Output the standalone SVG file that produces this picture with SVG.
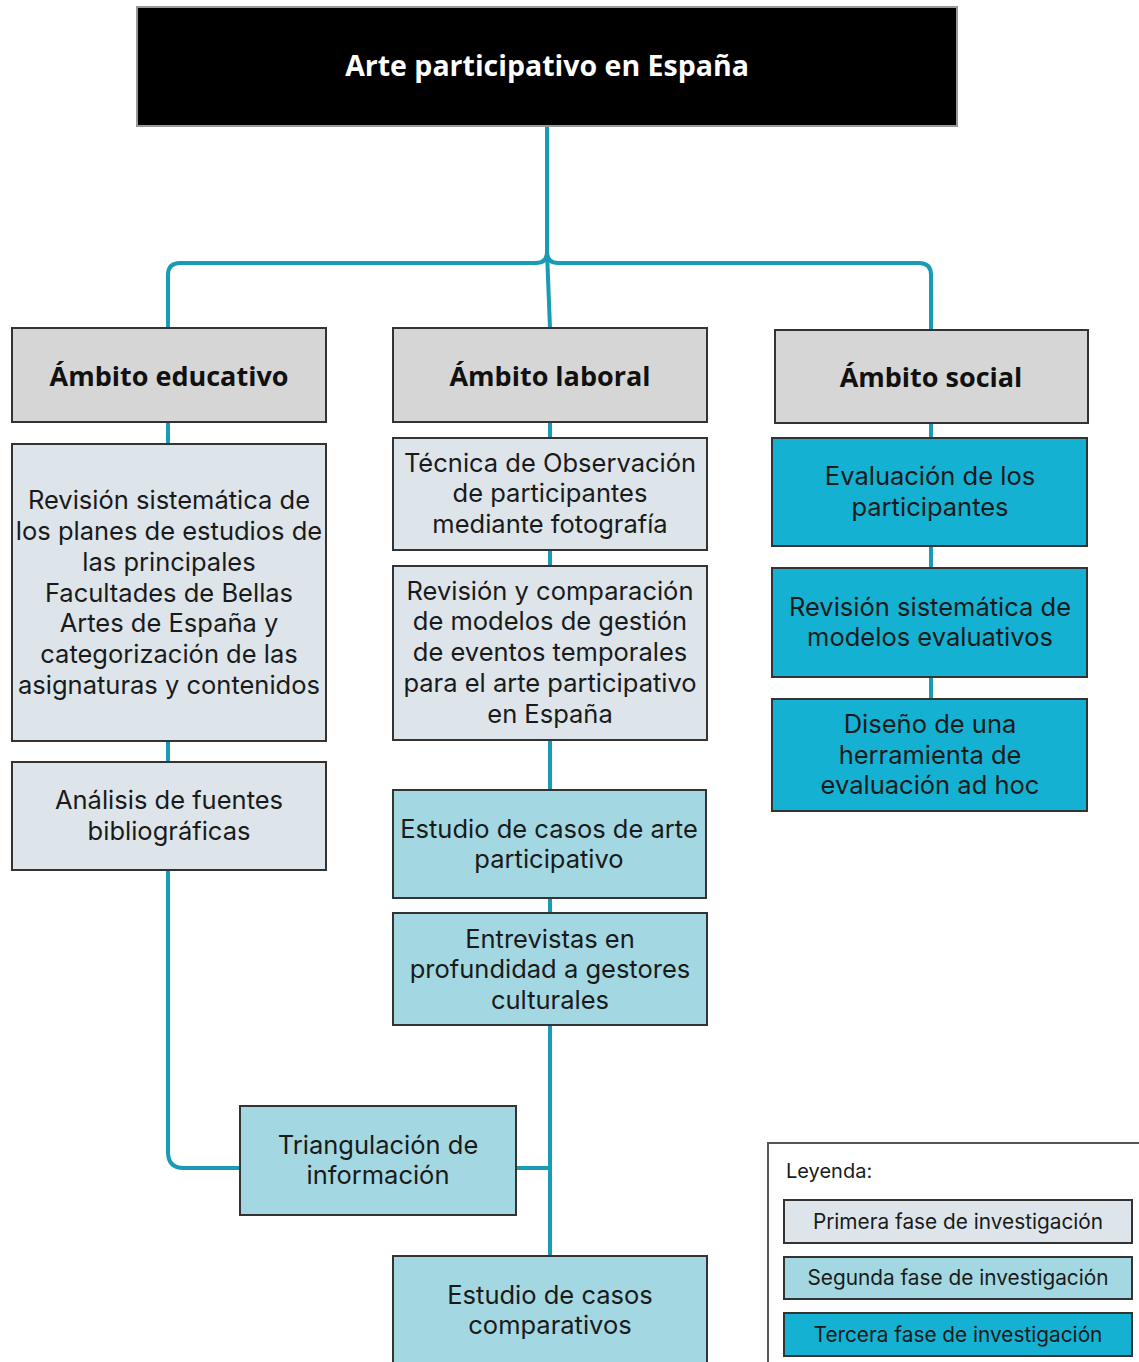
<svg xmlns="http://www.w3.org/2000/svg" width="1139" height="1362" viewBox="0 0 1139 1362">
<style>
.box{stroke:#333;stroke-width:2}
.head{fill:#d6d6d6}
.p1{fill:#dde5ea}
.p2{fill:#a3d8e2}
.p3{fill:#14b1d3}
.t{font-family:Inter,"Open Sans",sans-serif;font-size:25.5px;fill:#1a1a1a;text-anchor:middle}
.h{font-family:"Open Sans","Liberation Sans",sans-serif;font-weight:bold;font-size:27px;fill:#111;text-anchor:middle}
.lg{font-family:Inter,"Open Sans",sans-serif;font-size:20.8px;fill:#1a1a1a;text-anchor:middle}
.c{fill:none;stroke:#1a9bb5;stroke-width:4;stroke-linejoin:round}
</style>
<rect width="1139" height="1362" fill="#fff"/>
<g id="connectors">
<path class="c" d="M547 126 V252 Q547 263 536 263 H180 Q168 263 168 275 V328"/>
<path class="c" d="M547 252 Q547 263 558 263 H919 Q931 263 931 275 V330"/>
<path class="c" d="M547 252 L550 328"/>
<path class="c" d="M168 422 V444 M168 741 V762 M168 870 V1152 Q168 1168 184 1168 H240"/>
<path class="c" d="M550 422 V438 M550 550 V566 M550 740 V790 M550 898 V913 M550 1025 V1256 M516 1168 H550"/>
<path class="c" d="M931 423 V438 M931 546 V568 M931 677 V699"/>
</g>
<g id="title">
<rect x="137" y="7" width="820" height="119" fill="#000" stroke="#999" stroke-width="2"/>
<text x="547" y="76" class="h" style="fill:#fff;font-size:28.5px">Arte participativo en España</text>
</g>
<g id="ambito-educativo">
<rect class="box head" x="12" y="328" width="314" height="94"/>
<text class="h" x="169" y="386">Ámbito educativo</text>
</g>
<g id="ambito-laboral">
<rect class="box head" x="393" y="328" width="314" height="94"/>
<text class="h" x="550" y="386">Ámbito laboral</text>
</g>
<g id="ambito-social">
<rect class="box head" x="775" y="330" width="313" height="93"/>
<text class="h" x="931" y="387">Ámbito social</text>
</g>
<g id="revision-planes">
<rect class="box p1" x="12" y="444" width="314" height="297"/>
<text class="t" x="169" y="509">Revisión sistemática de</text>
<text class="t" x="169" y="540">los planes de estudios de</text>
<text class="t" x="169" y="571">las principales</text>
<text class="t" x="169" y="602">Facultades de Bellas</text>
<text class="t" x="169" y="632">Artes de España y</text>
<text class="t" x="169" y="663">categorización de las</text>
<text class="t" x="169" y="694">asignaturas y contenidos</text>
</g>
<g id="analisis-fuentes">
<rect class="box p1" x="12" y="762" width="314" height="108"/>
<text class="t" x="169" y="809">Análisis de fuentes</text>
<text class="t" x="169" y="840">bibliográficas</text>
</g>
<g id="tecnica-observacion">
<rect class="box p1" x="393" y="438" width="314" height="112"/>
<text class="t" x="550" y="472">Técnica de Observación</text>
<text class="t" x="550" y="502">de participantes</text>
<text class="t" x="550" y="533">mediante fotografía</text>
</g>
<g id="revision-comparacion">
<rect class="box p1" x="393" y="566" width="314" height="174"/>
<text class="t" x="550" y="600">Revisión y comparación</text>
<text class="t" x="550" y="630">de modelos de gestión</text>
<text class="t" x="550" y="661">de eventos temporales</text>
<text class="t" x="550" y="692">para el arte participativo</text>
<text class="t" x="550" y="723">en España</text>
</g>
<g id="estudio-casos-arte">
<rect class="box p2" x="393" y="790" width="313" height="108"/>
<text class="t" x="549" y="838">Estudio de casos de arte</text>
<text class="t" x="549" y="868">participativo</text>
</g>
<g id="entrevistas">
<rect class="box p2" x="393" y="913" width="314" height="112"/>
<text class="t" x="550" y="948">Entrevistas en</text>
<text class="t" x="550" y="978">profundidad a gestores</text>
<text class="t" x="550" y="1009">culturales</text>
</g>
<g id="triangulacion">
<rect class="box p2" x="240" y="1106" width="276" height="109"/>
<text class="t" x="378" y="1154">Triangulación de</text>
<text class="t" x="378" y="1184">información</text>
</g>
<g id="estudio-comparativos">
<rect class="box p2" x="393" y="1256" width="314" height="110"/>
<text class="t" x="550" y="1304">Estudio de casos</text>
<text class="t" x="550" y="1334">comparativos</text>
</g>
<g id="evaluacion-participantes">
<rect class="box p3" x="772" y="438" width="315" height="108"/>
<text class="t" x="930" y="485">Evaluación de los</text>
<text class="t" x="930" y="516">participantes</text>
</g>
<g id="revision-modelos">
<rect class="box p3" x="772" y="568" width="315" height="109"/>
<text class="t" x="930" y="616">Revisión sistemática de</text>
<text class="t" x="930" y="646">modelos evaluativos</text>
</g>
<g id="diseno-herramienta">
<rect class="box p3" x="772" y="699" width="315" height="112"/>
<text class="t" x="930" y="733">Diseño de una</text>
<text class="t" x="930" y="764">herramienta de</text>
<text class="t" x="930" y="794">evaluación ad hoc</text>
</g>
<g id="leyenda">
<rect x="768" y="1143" width="380" height="230" fill="#fff" stroke="#555" stroke-width="2"/>
<text x="786" y="1178" style="font-family:Inter,'Open Sans',sans-serif;font-size:20px;fill:#1a1a1a">Leyenda:</text>
<rect class="box p1" x="784" y="1200" width="348" height="43"/>
<text class="lg" x="958" y="1229">Primera fase de investigación</text>
<rect class="box p2" x="784" y="1257" width="348" height="42"/>
<text class="lg" x="958" y="1285">Segunda fase de investigación</text>
<rect class="box p3" x="784" y="1313" width="348" height="43"/>
<text class="lg" x="958" y="1342">Tercera fase de investigación</text>
</g>
</svg>
